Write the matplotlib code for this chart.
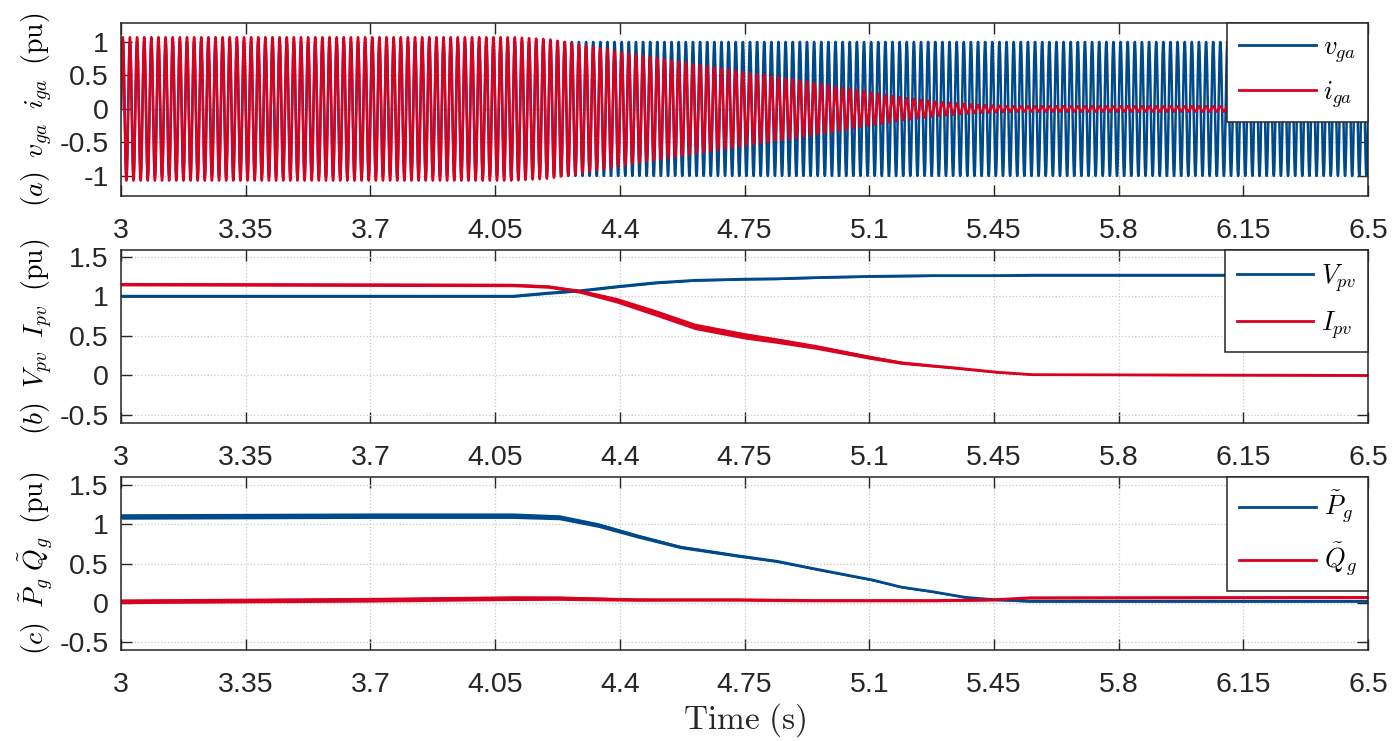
import numpy as np
import matplotlib
matplotlib.use('Agg')
import matplotlib.pyplot as plt

plt.rcParams['font.family'] = ['Liberation Sans', 'DejaVu Sans']
plt.rcParams['mathtext.fontset'] = 'cm'
plt.rcParams['axes.unicode_minus'] = False

# 色 (MATLAB風の青と赤)
blue = '#00498A'
red = '#DA0020'

# 横軸
xticks = [3, 3.35, 3.7, 4.05, 4.4, 4.75, 5.1, 5.45, 5.8, 6.15, 6.5]
xticklabels = ['3', '3.35', '3.7', '4.05', '4.4', '4.75', '5.1', '5.45', '5.8', '6.15', '6.5']

# (a) 系統電圧・電流 (50 Hz) の振幅包絡
f_grid = 50.0
v_env_t = [3.0, 6.5]
v_env = [1.0, 1.0]
i_env_t = [3.0, 4.1, 4.2, 4.3, 4.4, 4.54, 4.76, 4.9, 5.0, 5.1, 5.19, 5.3, 5.4, 5.5, 6.5]
i_env = [1.07, 1.07, 1.04, 0.95, 0.85, 0.73, 0.54, 0.43, 0.34, 0.25, 0.17, 0.10, 0.06, 0.04, 0.04]

# (b) PV電圧・電流
pv_t = [3.0, 4.1, 4.2, 4.29, 4.39, 4.5, 4.61, 4.75, 4.84, 4.95, 5.1, 5.19, 5.28, 5.33, 5.46, 5.56, 6.5]
vpv = [1.0, 1.0, 1.04, 1.07, 1.12, 1.17, 1.2, 1.215, 1.22, 1.235, 1.25, 1.255, 1.26, 1.26, 1.26, 1.265, 1.265]
ipv = [1.15, 1.14, 1.12, 1.06, 0.95, 0.79, 0.62, 0.5, 0.44, 0.36, 0.23, 0.16, 0.12, 0.1, 0.04, 0.01, 0.0]
vpv_band = [0.015, 0.015, 0.015, 0.015, 0.015, 0.015, 0.012, 0.012, 0.012, 0.012, 0.012, 0.012, 0.012, 0.012, 0.012, 0.012, 0.012]
ipv_band = [0.02, 0.02, 0.02, 0.025, 0.035, 0.04, 0.04, 0.04, 0.035, 0.03, 0.025, 0.02, 0.015, 0.015, 0.01, 0.008, 0.008]

# (c) 系統有効・無効電力
pq_t = [3.0, 3.7, 4.1, 4.23, 4.34, 4.45, 4.57, 4.73, 4.84, 4.95, 5.11, 5.19, 5.28, 5.37, 5.45, 5.55, 6.5]
pg = [1.1, 1.11, 1.11, 1.09, 0.99, 0.85, 0.71, 0.6, 0.53, 0.43, 0.29, 0.2, 0.14, 0.07, 0.04, 0.02, 0.02]
qg = [0.02, 0.04, 0.06, 0.06, 0.05, 0.04, 0.04, 0.04, 0.035, 0.03, 0.03, 0.03, 0.03, 0.035, 0.04, 0.065, 0.07]
pg_band = [0.035, 0.035, 0.035, 0.032, 0.03, 0.025, 0.02, 0.018, 0.015, 0.013, 0.012, 0.01, 0.01, 0.01, 0.01, 0.01, 0.01]
qg_band = [0.03, 0.03, 0.03, 0.028, 0.024, 0.02, 0.018, 0.018, 0.018, 0.016, 0.016, 0.016, 0.016, 0.016, 0.016, 0.016, 0.016]

t = np.arange(3.0, 6.5, 1e-4)
v_ga = np.interp(t, v_env_t, v_env) * np.sin(2 * np.pi * f_grid * t)
i_ga = np.interp(t, i_env_t, i_env) * np.sin(2 * np.pi * f_grid * t)

fig = plt.figure(figsize=(13.93, 7.41), dpi=100)
L, W, H = 0.0869, 0.8953, 0.2332
ax_a = fig.add_axes([L, 0.7355, W, H])
ax_b = fig.add_axes([L, 0.4291, W, H])
ax_c = fig.add_axes([L, 0.1228, W, H])


def style(ax, yt, ylim, ylabel):
    ax.set_xlim(3, 6.5)
    ax.set_ylim(*ylim)
    ax.set_xticks(xticks)
    ax.set_xticklabels(xticklabels)
    ax.set_yticks(yt)
    ax.set_yticklabels(['%g' % v for v in yt])
    ax.tick_params(axis='both', direction='in', length=8, width=1, colors='#262626',
                   labelsize=20.5, top=True, right=True)
    ax.tick_params(axis='x', pad=16)
    ax.tick_params(axis='y', pad=9)
    ax.grid(True, linestyle=':', color='#c8c8c8', linewidth=0.9)
    for s in ax.spines.values():
        s.set_color('#262626')
        s.set_linewidth(1.1)
    ax.set_ylabel(ylabel, fontsize=20, labelpad=3)
    ax.set_axisbelow(True)


def leg(ax):
    lg = ax.legend(loc='upper right', borderaxespad=0, fancybox=False, edgecolor='#262626',
                   fontsize=19, handlelength=2.9, handletextpad=0.3, labelspacing=0.55,
                   borderpad=0.45, framealpha=1)
    lg.get_frame().set_linewidth(1.1)
    for ln in lg.get_lines():
        ln.set_linewidth(2)


# (a)
ax_a.plot(t, v_ga, color=blue, linewidth=1.8, label=r'$v_{ga}$')
ax_a.plot(t, i_ga, color=red, linewidth=1.8, label=r'$i_{ga}$')
style(ax_a, [-1, -0.5, 0, 0.5, 1], (-1.3, 1.28), r'$(a)\;\;v_{ga}\;\;i_{ga}\;\;\mathrm{(pu)}$')
leg(ax_a)

# (b)
ax_b.fill_between(pv_t, np.array(vpv) - vpv_band, np.array(vpv) + vpv_band, color=blue, linewidth=0)
ax_b.plot(pv_t, vpv, color=blue, linewidth=2, label=r'$V_{pv}$')
ax_b.fill_between(pv_t, np.array(ipv) - ipv_band, np.array(ipv) + ipv_band, color=red, linewidth=0)
ax_b.plot(pv_t, ipv, color=red, linewidth=2, label=r'$I_{pv}$')
style(ax_b, [-0.5, 0, 0.5, 1, 1.5], (-0.6, 1.58), r'$(b)\;\;V_{pv}\;\;I_{pv}\;\;\mathrm{(pu)}$')
leg(ax_b)

# (c)
ax_c.fill_between(pq_t, np.array(pg) - pg_band, np.array(pg) + pg_band, color=blue, linewidth=0)
ax_c.plot(pq_t, pg, color=blue, linewidth=2, label=r'$\tilde{P}_g$')
ax_c.fill_between(pq_t, np.array(qg) - qg_band, np.array(qg) + qg_band, color=red, linewidth=0)
ax_c.plot(pq_t, qg, color=red, linewidth=2, label=r'$\tilde{Q}_g$')
style(ax_c, [-0.5, 0, 0.5, 1, 1.5], (-0.6, 1.6), r'$(c)\;\;\tilde{P}_g\;\tilde{Q}_g\;\;\mathrm{(pu)}$')
leg(ax_c)

fig.text(0.5345, 0.028, r'$\mathrm{Time\ (s)}$', ha='center', va='center', fontsize=24, color='#262626')

fig.savefig('out.png', dpi=100)
